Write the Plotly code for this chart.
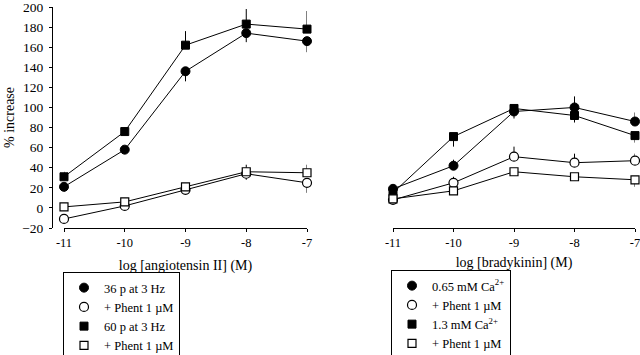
import plotly.graph_objects as go

log_conc = [-11, -10, -9, -8, -7]
tick_vals = [-11, -10, -9, -8, -7]
tick_text = ["-11", "-10", "-9", "-8", "-7"]
y_ticks = [-20, 0, 20, 40, 60, 80, 100, 120, 140, 160, 180, 200]

# Angiotensin II panel
ang_36p = [21, 58, 136, 174, 166]
ang_36p_err_up = [0, 0, 0, 0, 0]
ang_36p_err_dn = [5, 2, 10, 9, 11]
ang_36p_phent = [-11, 2, 18, 34, 25]
ang_36p_phent_err_up = [0, 0, 0, 0, 0]
ang_36p_phent_err_dn = [3, 2, 3, 6, 10]
ang_60p = [31, 76, 162, 183, 178]
ang_60p_err_up = [5, 4, 14, 15, 18]
ang_60p_err_dn = [0, 0, 0, 0, 0]
ang_60p_phent = [1, 6, 21, 36, 35]
ang_60p_phent_err_up = [2, 2, 3, 7, 8]
ang_60p_phent_err_dn = [0, 0, 0, 0, 0]

# Bradykinin panel
bk_065 = [19, 42, 96, 100, 86]
bk_065_err_up = [3, 6, 3, 11, 9]
bk_065_err_dn = [0, 0, 7, 0, 0]
bk_065_phent = [8, 25, 51, 45, 47]
bk_065_phent_err_up = [2, 6, 10, 9, 7]
bk_065_phent_err_dn = [0, 0, 0, 0, 0]
bk_13 = [15, 71, 99, 92, 72]
bk_13_err_up = [0, 0, 0, 0, 0]
bk_13_err_dn = [3, 10, 5, 7, 7]
bk_13_phent = [9, 17, 36, 31, 28]
bk_13_phent_err_up = [0, 0, 0, 0, 0]
bk_13_phent_err_dn = [2, 2, 3, 3, 7]

left_names = ["36 p at 3 Hz", "+ Phent 1 µM", "60 p at 3 Hz", "+ Phent 1 µM"]
right_names = ["0.65 mM Ca<sup>2+</sup>", "+ Phent 1 µM", "1.3 mM Ca<sup>2+</sup>", "+ Phent 1 µM"]

FONT = "Liberation Serif, Times New Roman, serif"
BLACK = "black"

styles = [
    dict(symbol="circle", size=9, open=False),
    dict(symbol="circle", size=9, open=True),
    dict(symbol="square", size=8, open=False),
    dict(symbol="square", size=8, open=True),
]

def marker(st):
    if st["open"]:
        return dict(symbol=st["symbol"], size=st["size"], color="white",
                    line=dict(color=BLACK, width=1.2))
    return dict(symbol=st["symbol"], size=st["size"], color=BLACK, line=dict(color=BLACK, width=1))

fig = go.Figure()

left_series = [
    (ang_36p, ang_36p_err_up, ang_36p_err_dn),
    (ang_36p_phent, ang_36p_phent_err_up, ang_36p_phent_err_dn),
    (ang_60p, ang_60p_err_up, ang_60p_err_dn),
    (ang_60p_phent, ang_60p_phent_err_up, ang_60p_phent_err_dn),
]
right_series = [
    (bk_065, bk_065_err_up, bk_065_err_dn),
    (bk_065_phent, bk_065_phent_err_up, bk_065_phent_err_dn),
    (bk_13, bk_13_err_up, bk_13_err_dn),
    (bk_13_phent, bk_13_phent_err_up, bk_13_phent_err_dn),
]

for (ys, up, dn), st in zip(left_series, styles):
    fig.add_trace(go.Scatter(
        x=log_conc, y=ys, mode="lines+markers", xaxis="x", yaxis="y",
        line=dict(color=BLACK, width=1), marker=marker(st), showlegend=False,
        cliponaxis=False,
        error_y=dict(type="data", symmetric=False, array=up, arrayminus=dn,
                     width=0, thickness=1, color=BLACK)))

for (ys, up, dn), st in zip(right_series, styles):
    fig.add_trace(go.Scatter(
        x=log_conc, y=ys, mode="lines+markers", xaxis="x2", yaxis="y2",
        line=dict(color=BLACK, width=1), marker=marker(st), showlegend=False,
        cliponaxis=False,
        error_y=dict(type="data", symmetric=False, array=up, arrayminus=dn,
                     width=0, thickness=1, color=BLACK)))

# legend-only entries
for name, st in zip(left_names, styles):
    fig.add_trace(go.Scatter(x=[None], y=[None], mode="markers", name=name,
                             marker=marker(st), xaxis="x", yaxis="y", legend="legend"))
for name, st in zip(right_names, styles):
    fig.add_trace(go.Scatter(x=[None], y=[None], mode="markers", name=name,
                             marker=marker(st), xaxis="x2", yaxis="y2", legend="legend2"))

W, H = 640, 355
ydom = [(H - 228) / H, (H - 7) / H]

xtick_font = dict(family=FONT, size=12.5, color=BLACK)
ytick_font = dict(family=FONT, size=13.5, color=BLACK)
title_font = dict(family=FONT, size=14, color=BLACK)
legend_font = dict(family=FONT, size=12.5, color=BLACK)

common_x = dict(range=[-11, -7], tickvals=tick_vals, ticktext=tick_text, showgrid=False,
                zeroline=False, showline=True, linecolor=BLACK, linewidth=1,
                ticks="outside", ticklen=3, tickcolor=BLACK, tickfont=xtick_font,
                ticklabeloverflow="allow", automargin=False)

fig.update_layout(
    width=W, height=H,
    margin=dict(l=0, r=0, t=0, b=0, autoexpand=False),
    paper_bgcolor="white", plot_bgcolor="white",
    font=dict(family=FONT, color=BLACK),
    xaxis=dict(domain=[64 / W, 307 / W], anchor="y",
               title=dict(text="log [angiotensin II] (M)", font=title_font, standoff=11),
               **common_x),
    xaxis2=dict(domain=[393 / W, 635 / W], anchor="y2",
                title=dict(text="log [bradykinin] (M)", font=title_font, standoff=8),
                **common_x),
    yaxis=dict(domain=ydom, range=[-20, 200], tickvals=y_ticks, showgrid=False,
               zeroline=False, showline=True, linecolor=BLACK, linewidth=1,
               ticks="outside", ticklen=3, tickcolor=BLACK, tickfont=ytick_font,
               ticklabelstandoff=3, ticklabeloverflow="allow",
               anchor="free", position=52 / W, automargin=False,
               title=dict(text="% increase", font=title_font, standoff=3)),
    yaxis2=dict(domain=ydom, range=[-20, 200], anchor="x2", visible=False),
    legend=dict(x=63 / W, y=(H - 272) / H, xanchor="left", yanchor="top",
                bordercolor=BLACK, borderwidth=1, bgcolor="white",
                font=legend_font, itemwidth=30, tracegroupgap=0),
    legend2=dict(x=391 / W, y=(H - 270) / H, xanchor="left", yanchor="top",
                 bordercolor=BLACK, borderwidth=1, bgcolor="white",
                 font=legend_font, itemwidth=30, tracegroupgap=0),
)

fig.write_html("out.html", config={"displayModeBar": False},
               post_script="document.body.style.margin='0';")
